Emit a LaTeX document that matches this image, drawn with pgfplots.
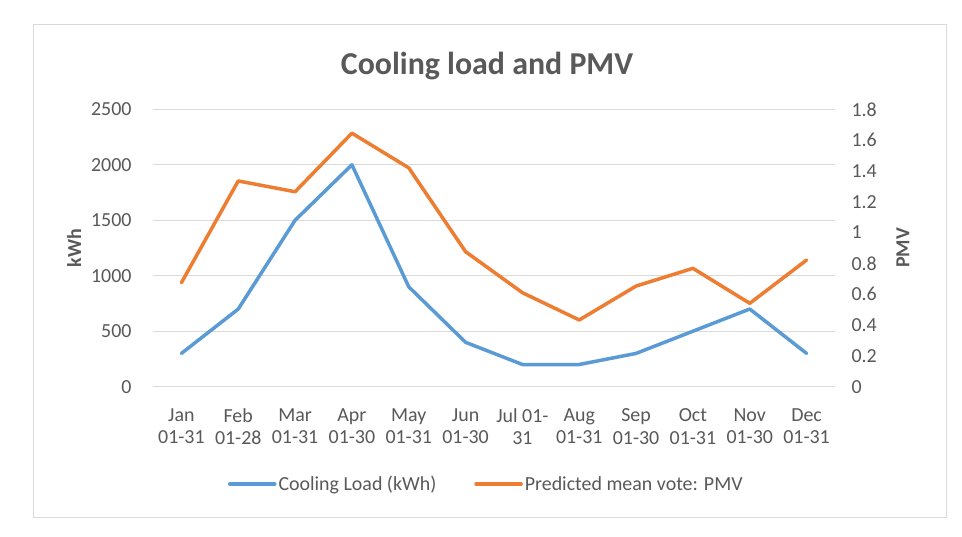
\documentclass[border=0pt]{standalone}
\usepackage{pgfplots}
\pgfplotsset{compat=1.18}
\usepackage{fontspec}
\setmainfont{Carlito}
\definecolor{cblue}{HTML}{5B9BD5}
\definecolor{corange}{HTML}{ED7D31}
\definecolor{tgrey}{HTML}{595959}
\definecolor{ggrey}{HTML}{D9D9D9}
\begin{document}
\begin{tikzpicture}
\path[fill=white] (0bp,0bp) rectangle (962bp,537bp);
\draw[ggrey, line width=1bp] (33bp,19bp) rectangle (946bp,512bp);
\node[font=\fontsize{32}{36}\selectfont\bfseries, text=tgrey] at (487bp,471bp) {Cooling load and PMV};
\pgfplotsset{common/.style={
  scale only axis, width=682bp, height=277.4bp,
  at={(153bp,150.3bp)}, anchor=south west,
  xmin=-0.5, xmax=11.5, ymin=0,
  axis line style={draw=none}, major tick length=0,
  tick label style={font=\fontsize{20}{23}\selectfont, text=tgrey},
  /pgf/number format/assume math mode=true,
  /pgf/number format/1000 sep={},
  label style={font=\fontsize{20}{24}\selectfont\bfseries, text=tgrey},
}}
\begin{axis}[common,
  ymax=2500, ytick={0,500,1000,1500,2000,2500},
  ymajorgrids, grid style={ggrey, line width=1bp},
  xtick={0,1,2,3,4,5,6,7,8,9,10,11},
  xticklabels={{Jan\\01-31},{Feb\\01-28},{Mar\\01-31},{Apr\\01-30},{May\\01-31},{Jun\\01-30},{Jul 01-\\31},{Aug\\01-31},{Sep\\01-30},{Oct\\01-31},{Nov\\01-30},{Dec\\01-31}},
  xticklabel style={align=center, yshift=-18bp},
  yticklabel style={xshift=-18bp},
  ylabel={kWh},
  ylabel style={at={(axis description cs:-0.1158,0.5)}, anchor=center},
]
\addplot[cblue, line width=3.5bp, line join=round, line cap=round] coordinates {
(0,300) (1,700) (2,1500) (3,2000) (4,900) (5,400) (6,200) (7,200) (8,300) (9,500) (10,700) (11,300)};
\end{axis}
\begin{axis}[common,
  ymax=1.8, ytick={0,0.2,0.4,0.6,0.8,1,1.2,1.4,1.6,1.8},
  xtick=\empty,
  yticklabel pos=right,
  yticklabel style={xshift=13bp},
  ylabel={PMV},
  ylabel style={at={(axis description cs:1.0997,0.5)}, anchor=center},
  legend columns=2,
  legend style={at={(axis description cs:0.4887,-0.351)}, anchor=center, draw=none, fill=none,
    font=\fontsize{20}{24}\selectfont, text=tgrey,
    /tikz/every even column/.append style={column sep=36bp}},
  legend image code/.code={\draw[#1] (0bp,0bp) -- (45bp,0bp);},
]
\addlegendimage{cblue, line width=3.5bp, line cap=round}
\addlegendentry{Cooling Load (kWh)}
\addplot[corange, line width=3.5bp, line join=round, line cap=round] coordinates {
(0,0.675) (1,1.335) (2,1.265) (3,1.645) (4,1.42) (5,0.876) (6,0.61) (7,0.433) (8,0.653) (9,0.768) (10,0.541) (11,0.822)};
\addlegendentry{Predicted mean vote: PMV}
\end{axis}
\end{tikzpicture}
\end{document}
